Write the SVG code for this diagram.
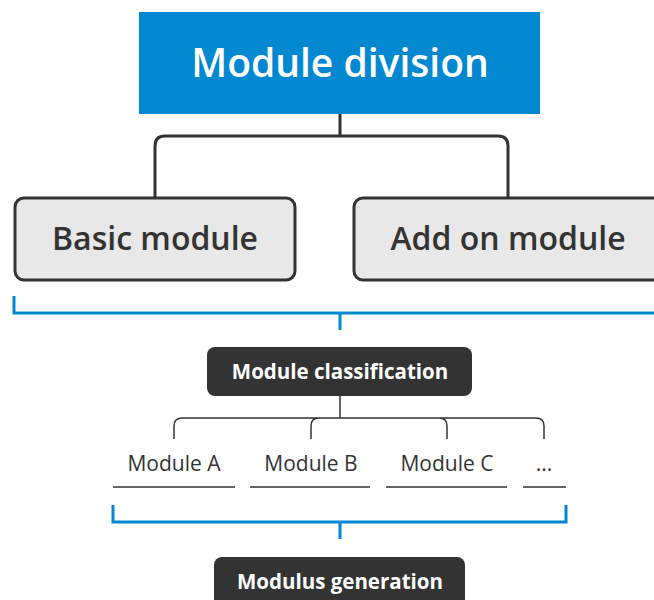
<svg xmlns="http://www.w3.org/2000/svg" width="654" height="600" viewBox="0 0 654 600">
<style>
.t{font-family:"Open Sans","Liberation Sans",sans-serif;text-anchor:middle}
.dark{stroke:#333;fill:none}
.blue{stroke:#0288d1;fill:none;stroke-width:3}
.lbl{font-size:21px;fill:#333}
.bk{font-size:20.5px;font-weight:700;fill:#fff}
.big{font-size:32px;font-weight:600;fill:#333}
</style>
<rect width="654" height="600" fill="#fff"/>
<g id="connectors">
<path class="dark" stroke-width="3" d="M340,114 V136 M340,136 H165 Q155,136 155,146 V198 M340,136 H498 Q508,136 508,146 V198"/>
<path class="blue" d="M14,296 V313 H660 M340,313 V330"/>
<path class="dark" stroke-width="1.5" d="M340,396 V418 M340,418 H182 Q174,418 174,426 V439 M340,418 H319 Q311,418 311,426 V439 M340,418 H439 Q447,418 447,426 V439 M340,418 H536 Q544,418 544,426 V439"/>
<path class="blue" d="M113,505 V522 H566 V505 M340,522 V539"/>
</g>
<g id="module-division">
<rect x="139" y="12" width="401" height="102" fill="#0288d1"/>
<text class="t" x="340" y="77" font-size="39" font-weight="600" fill="#fff">Module division</text>
</g>
<g id="basic-module">
<rect x="15" y="198" width="280" height="82" rx="9" fill="#e8e8e8" stroke="#333" stroke-width="3"/>
<text class="t big" x="155" y="250">Basic module</text>
</g>
<g id="add-on-module">
<rect x="354" y="198" width="308" height="82" rx="9" fill="#e8e8e8" stroke="#333" stroke-width="3"/>
<text class="t big" x="508" y="250">Add on module</text>
</g>
<g id="module-classification">
<rect x="207" y="347" width="265" height="49" rx="8" fill="#333"/>
<text class="t bk" x="340" y="379">Module classification</text>
</g>
<g id="module-a">
<text class="t lbl" x="174" y="471">Module A</text>
<line x1="113" y1="487" x2="235" y2="487" stroke="#333" stroke-width="1.5"/>
</g>
<g id="module-b">
<text class="t lbl" x="311" y="471">Module B</text>
<line x1="250" y1="487" x2="370" y2="487" stroke="#333" stroke-width="1.5"/>
</g>
<g id="module-c">
<text class="t lbl" x="447" y="471">Module C</text>
<line x1="386" y1="487" x2="507" y2="487" stroke="#333" stroke-width="1.5"/>
</g>
<g id="module-more">
<text class="t lbl" x="544" y="471">...</text>
<line x1="523" y1="487" x2="566" y2="487" stroke="#333" stroke-width="1.5"/>
</g>
<g id="modulus-generation">
<rect x="214" y="557" width="251" height="52" rx="8" fill="#333"/>
<text class="t bk" x="340" y="589">Modulus generation</text>
</g>
</svg>
